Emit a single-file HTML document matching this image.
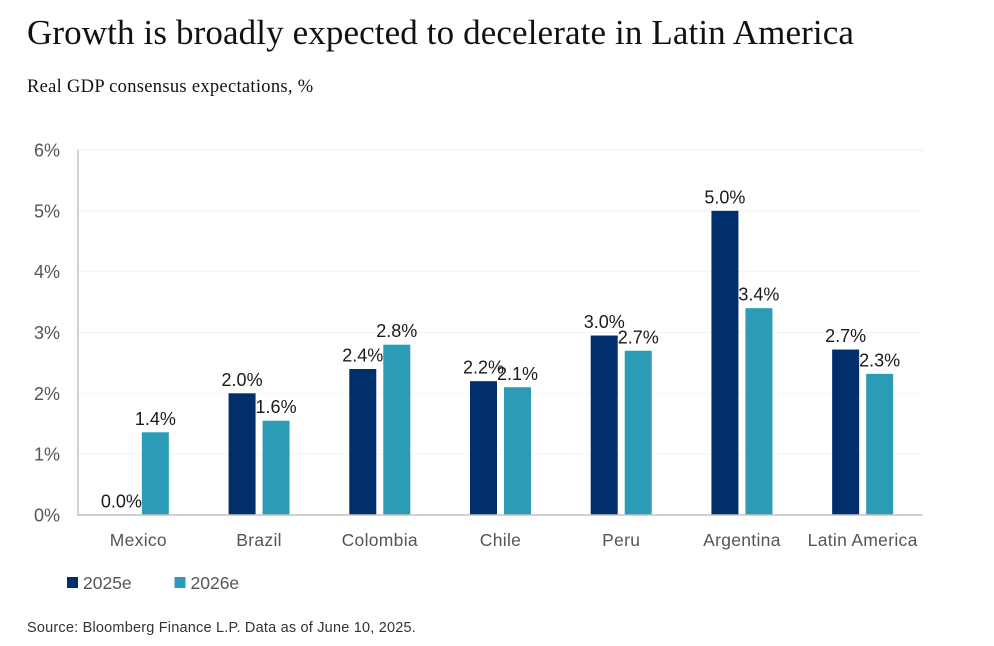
<!DOCTYPE html>
<html lang="en">
<head>
<meta charset="utf-8">
<title>Growth is broadly expected to decelerate in Latin America</title>
<style>
html,body{margin:0;padding:0;background:#fff;width:994px;height:646px;overflow:hidden}
#stage{position:relative;width:994px;height:646px}
.t{position:absolute;white-space:nowrap;color:#111}
#title{left:27px;top:14px;font:400 35px/38px "Liberation Serif",serif;letter-spacing:.12px}
#sub{left:27px;top:77px;font:400 18.5px/21px "Liberation Serif",serif;letter-spacing:.3px}
#src{left:27px;top:619px;font:400 14.5px/18px "Liberation Sans",sans-serif;color:#333;letter-spacing:.2px}
svg{position:absolute;left:0;top:0}
text{font-family:"Liberation Sans",sans-serif}
</style>
</head>
<body>
<div id="stage">
<div class="t" id="title">Growth is broadly expected to decelerate in Latin America</div>
<div class="t" id="sub">Real GDP consensus expectations, %</div>
<svg id="chart" width="994" height="646" viewBox="0 0 994 646"></svg>
<div class="t" id="src">Source: Bloomberg Finance L.P. Data as of June 10, 2025.</div>
</div>
<script>
const categories = ["Mexico","Brazil","Colombia","Chile","Peru","Argentina","Latin America"];
const values2025 = [0,2.0,2.4,2.2,2.95,5.0,2.72];
const values2026 = [1.36,1.55,2.8,2.1,2.7,3.4,2.32];
const labels2025 = ["0.0%","2.0%","2.4%","2.2%","3.0%","5.0%","2.7%"];
const labels2026 = ["1.4%","1.6%","2.8%","2.1%","2.7%","3.4%","2.3%"];
const yTicks = [0,1,2,3,4,5,6];
const seriesNames = ["2025e","2026e"];

const NS = "http://www.w3.org/2000/svg";
const svg = document.getElementById("chart");
const plot = {left:78,right:923,top:150,bottom:515,max:6};
function y(v){return plot.bottom-(v/plot.max)*(plot.bottom-plot.top);}
function x(i){return plot.left+(i+0.5)*(plot.right-plot.left)/categories.length;}
function add(tag,attrs,text){
  const el=document.createElementNS(NS,tag);
  for(const k in attrs)el.setAttribute(k,attrs[k]);
  if(text!==undefined)el.textContent=text;
  svg.appendChild(el);
  return el;
}
const NAVY="#002f6c",TEAL="#2c9cb6",BW=27,GAP=3.5;

yTicks.forEach(function(t){
  if(t>0){
    const g=add("line",{x1:plot.left,x2:plot.right,y1:y(t),y2:y(t),stroke:t===6?"#ececec":"#f4f4f4","stroke-width":1});
    
    
  }
  const l=add("text",{x:60,y:y(t)+6.5,"text-anchor":"end","font-size":18,fill:"#555"},t+"%");
  
  
});

categories.forEach(function(c,i){
  const cx=x(i);
  const h1=plot.bottom-y(values2025[i]);
  const h2=plot.bottom-y(values2026[i]);
  const b1=add("rect",{x:cx-GAP-BW,y:y(values2025[i]),width:BW,height:h1,fill:NAVY});
  
  
  const b2=add("rect",{x:cx+GAP,y:y(values2026[i]),width:BW,height:h2,fill:TEAL});
  
  
  const l1=add("text",{x:cx-GAP-BW/2,y:y(values2025[i])-7.5,"text-anchor":"middle","font-size":18,fill:"#1a1a1a"},labels2025[i]);
  
  
  const l2=add("text",{x:cx+GAP+BW/2,y:y(values2026[i])-7.5,"text-anchor":"middle","font-size":18,fill:"#1a1a1a"},labels2026[i]);
  
  
  const cat=add("text",{x:cx,y:546,"text-anchor":"middle","font-size":17.5,fill:"#555","letter-spacing":.3},c);
  
  
});

const ya=add("line",{x1:plot.left,x2:plot.left,y1:plot.top,y2:plot.bottom+1,stroke:"#c4c4c4","stroke-width":1.5});


const xa=add("line",{x1:plot.left,x2:plot.right,y1:plot.bottom,y2:plot.bottom,stroke:"#c4c4c4","stroke-width":1.5});



seriesNames.forEach(function(n,i){
  const lx=67+i*107.5;
  const s=add("rect",{x:lx,y:577,width:11,height:11,fill:i?TEAL:NAVY});
  
  
  const t=add("text",{x:lx+16,y:589,"font-size":17.5,fill:"#555"},n);
  
  
});
</script>
</body>
</html>
